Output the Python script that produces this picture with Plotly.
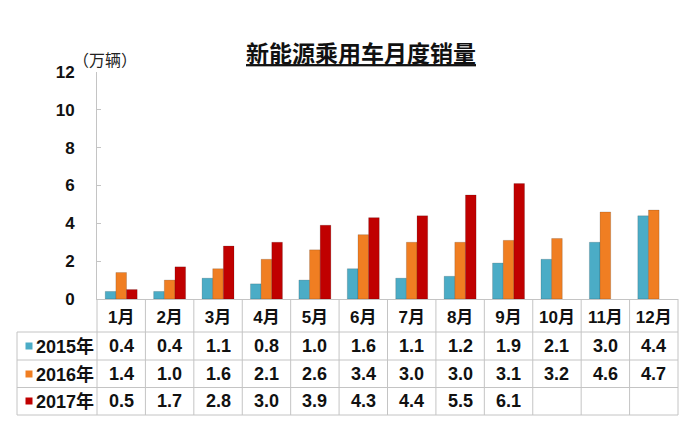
import plotly.graph_objects as go

months = ["1月", "2月", "3月", "4月", "5月", "6月", "7月", "8月", "9月", "10月", "11月", "12月"]
series_names = ["2015年", "2016年", "2017年"]
sales_2015 = [0.4, 0.4, 1.1, 0.8, 1.0, 1.6, 1.1, 1.2, 1.9, 2.1, 3.0, 4.4]
sales_2016 = [1.4, 1.0, 1.6, 2.1, 2.6, 3.4, 3.0, 3.0, 3.1, 3.2, 4.6, 4.7]
sales_2017 = [0.5, 1.7, 2.8, 3.0, 3.9, 4.3, 4.4, 5.5, 6.1, None, None, None]
y_ticks = [0, 2, 4, 6, 8, 10, 12]
colors = ["#4BACC6", "#F07E22", "#C00000"]
all_series = [sales_2015, sales_2016, sales_2017]

FONT = "Liberation Sans, Arial, Noto Sans CJK SC, sans-serif"
GRID = "#c4c4c4"

# page offset (browser body margin)
OFF = 8
WIN_W, WIN_H = 700, 424
WIDTH, HEIGHT = WIN_W - OFF, WIN_H - OFF
# plot area in window pixels
L, R, T, B = 97, 678, 72, 299
PW, PH = R - L, B - T


def px(x):
    return (x - L) / PW


def py(y):
    return (B - y) / PH


fig = go.Figure()
for name, vals, col in zip(series_names, all_series, colors):
    fig.add_trace(go.Bar(
        x=months, y=vals, name=name,
        marker=dict(color=col, line=dict(width=0.6, color="rgba(0,0,0,0.25)")),
        showlegend=False,
    ))

shapes = []
annotations = []

row_lines = [332, 360, 387.5, 415]
row_centers = [346, 374, 401]

for yl in row_lines:
    shapes.append(dict(type="line", xref="paper", yref="paper",
                       x0=px(17), x1=1, y0=py(yl), y1=py(yl),
                       line=dict(color=GRID, width=1)))
n = len(months)
for i in range(n + 1):
    shapes.append(dict(type="line", xref="paper", yref="paper",
                       x0=i / n, x1=i / n, y0=py(B), y1=py(415),
                       line=dict(color=GRID, width=1)))
shapes.append(dict(type="line", xref="paper", yref="paper",
                   x0=px(17), x1=px(17), y0=py(332), y1=py(415),
                   line=dict(color=GRID, width=1)))

for r, (vals, col, name) in enumerate(zip(all_series, colors, series_names)):
    yc = py(row_centers[r])
    for i, v in enumerate(vals):
        if v is None:
            continue
        annotations.append(dict(xref="paper", yref="paper", x=(i + 0.5) / n, y=yc,
                                text=f"{v:.1f}", showarrow=False,
                                font=dict(family=FONT, size=18, color="#111111", weight="bold"),
                                xanchor="center", yanchor="middle"))
    shapes.append(dict(type="rect", xref="paper", yref="paper",
                       x0=px(25.5), x1=px(32.5),
                       y0=py(row_centers[r] + 3.5), y1=py(row_centers[r] - 3.5),
                       fillcolor=col, line=dict(width=0)))
    annotations.append(dict(xref="paper", yref="paper", x=px(34), y=yc,
                            text=name, showarrow=False,
                            font=dict(family=FONT, size=18, color="#111111", weight="bold"),
                            xanchor="left", yanchor="middle"))

annotations.append(dict(xref="paper", yref="paper", x=px(71), y=py(60),
                        text="（万辆）", showarrow=False,
                        font=dict(family=FONT, size=16, color="#222222"),
                        xanchor="left", yanchor="middle"))

fig.update_layout(
    width=WIDTH, height=HEIGHT,
    margin=dict(l=L - OFF, r=WIN_W - R, t=T - OFF, b=WIN_H - B),
    paper_bgcolor="white", plot_bgcolor="white",
    barmode="group", bargap=0.34, bargroupgap=0.0,
    title=dict(text="<u>新能源乘用车月度销量</u>", x=(361 - OFF) / WIDTH,
               y=1 - (54 - OFF) / HEIGHT,
               xanchor="center", yanchor="middle",
               font=dict(family=FONT, size=23, color="#111111", weight="bold")),
    shapes=shapes, annotations=annotations,
)
fig.update_xaxes(
    showgrid=False, showline=True, linecolor=GRID, linewidth=1,
    ticks="outside", ticklen=3, tickcolor="rgba(0,0,0,0)",
    tickfont=dict(family=FONT, size=17, color="#111111", weight="bold"),
    fixedrange=True,
)
fig.update_yaxes(
    range=[0, 12], tickvals=y_ticks, showgrid=False, zeroline=False,
    showline=True, linecolor=GRID, linewidth=1,
    ticks="inside", ticklen=4, tickcolor=GRID, ticklabelstandoff=18,
    tickfont=dict(family=FONT, size=17, color="#111111", weight="bold"),
    fixedrange=True,
)

fig.write_html("out.html")
